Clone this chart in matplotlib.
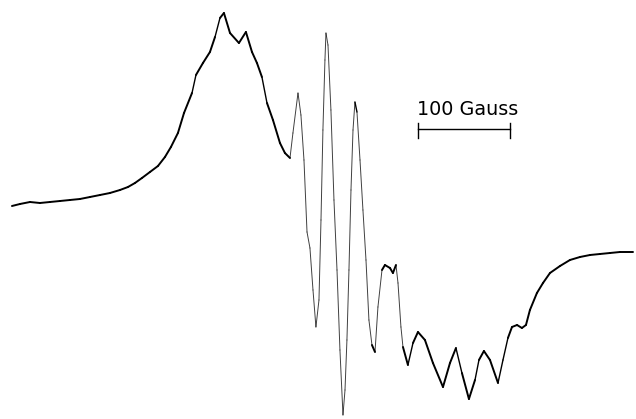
import numpy as np
import matplotlib
matplotlib.use("Agg")
import matplotlib.pyplot as plt
from matplotlib.collections import LineCollection

# EPR first-derivative spectrum: magnetic field (G, relative) and signal (arb. units)
field_G = [0.0, 8.7, 19.6, 30.4, 41.3, 52.2, 63.0, 73.9, 84.8, 95.7, 106.5, 117.4,
           126.1, 133.7, 141.3, 150.0, 158.7, 166.3, 172.8, 180.4, 187.0, 195.7,
           200.0, 207.6, 215.2, 220.7, 226.1, 230.4, 237.0,
           246.7, 254.3, 260.9, 266.3, 271.7, 277.2, 283.7, 291.3, 296.7, 302.2,
           305.4, 310.9, 314.1, 317.4, 320.7,
           323.9, 327.2, 330.4, 333.7, 335.9, 338.0, 340.2, 341.3, 343.5, 346.7,
           350.0, 353.3, 356.5, 359.8, 362.0, 364.1, 366.3, 368.5, 370.7, 372.8,
           375.0, 378.3, 381.5, 384.8, 388.0, 391.3, 394.6, 397.8, 402.2, 405.4,
           410.9, 414.1, 417.4, 419.6, 422.8, 425.0, 430.4,
           435.9, 441.3, 448.9, 457.6, 468.5, 476.1, 482.6,
           489.1, 496.7, 503.3, 507.6, 513.0, 519.6, 528.3,
           533.7, 539.1, 543.5, 549.0, 554.3, 558.7, 563.0,
           570.6, 577.2, 584.8, 595.7, 606.5, 617.4, 628.3, 639.1, 650.0,
           660.9, 675.0]
signal = [-1, 1, 3, 2, 3, 4, 5, 6, 8, 10, 12, 15,
          18, 22, 27, 33, 39, 48, 58, 72, 92, 112,
          130, 142, 153, 168, 187, 192, 172,
          162, 173, 153, 142, 128, 102, 85, 62, 52, 47,
          72, 112, 90, 45, -27,
          -43, -85, -122, -95, -15, 75, 145, 172, 160, 95,
          5, -65, -145, -210, -185, -135, -65, 15, 75, 103,
          93, 45, -5, -55, -115, -140, -147, -102, -65, -60,
          -63, -68, -60, -78, -122, -142, -160,
          -138, -127, -135, -158, -182, -158, -143,
          -168, -194, -175, -155, -146, -155, -178,
          -155, -133, -122, -120, -123, -120, -105,
          -88, -78, -68, -61, -55, -52, -50, -49, -48,
          -47, -47]

scale_bar_G = 100
scale_label = "100 Gauss"

fig = plt.figure(figsize=(6.36, 4.19), dpi=100)
ax = fig.add_axes([0, 0, 1, 1])
ax.set_xlim(-13.0, 678.3)
ax.set_ylim(-214, 205)
ax.axis("off")

x = np.asarray(field_G, dtype=float)
y = np.asarray(signal, dtype=float)
pts = np.column_stack([x, y])
segs = np.stack([pts[:-1], pts[1:]], axis=1)

# pen-recorder look: fast sweeps leave a thinner, fainter trace
slope = np.abs(np.diff(y) / np.diff(x))
widths = np.where(slope > 5, 0.7, np.where(slope > 3.5, 1.0, 1.4))
alphas = np.where(slope > 5, 0.75, 1.0)
colors = [(0, 0, 0, a) for a in alphas]
lc = LineCollection(segs, linewidths=widths, colors=colors, capstyle="round",
                    joinstyle="round")
ax.add_collection(lc)

# 100 G scale bar with end ticks
bar_x0 = 441.3
bar_y = 76
ax.plot([bar_x0, bar_x0 + scale_bar_G], [bar_y, bar_y], color="black", lw=1.0)
for bx in (bar_x0, bar_x0 + scale_bar_G):
    ax.plot([bx, bx], [bar_y - 9, bar_y + 6], color="black", lw=1.0)
ax.text(bar_x0 - 1, 90, scale_label, fontsize=13.8,
        ha="left", va="baseline", color="black")

fig.savefig("out.png", dpi=100)
